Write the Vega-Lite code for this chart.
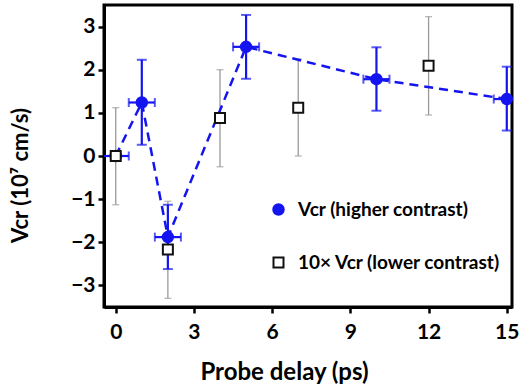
{
  "$schema": "https://vega.github.io/schema/vega-lite/v6.json",
  "width": 408,
  "height": 302,
  "autosize": "none",
  "padding": {"left": 104, "top": 5, "right": 8, "bottom": 81},
  "background": "white",
  "config": {
    "font": "Lato",
    "view": {"stroke": "black", "strokeWidth": 3},
    "axis": {
      "grid": false,
      "domainColor": "black",
      "domainWidth": 3,
      "tickColor": "black",
      "tickWidth": 2.5,
      "tickSize": 6,
      "labelFontSize": 21,
      "labelFontWeight": "bold",
      "labelColor": "black",
      "titleFontSize": 22,
      "titleFontWeight": "bold",
      "titleColor": "black"
    }
  },
  "datasets": {
    "pts": [
      {"s": "high", "x": 0, "y": 0, "ylo": 0, "yhi": 0, "xlo": -0.5, "xhi": 0.5},
      {"s": "high", "x": 1, "y": 1.24, "ylo": 0.26, "yhi": 2.23, "xlo": 0.5, "xhi": 1.5},
      {"s": "high", "x": 2, "y": -1.88, "ylo": -2.62, "yhi": -1.13, "xlo": 1.5, "xhi": 2.5},
      {"s": "high", "x": 5, "y": 2.53, "ylo": 1.79, "yhi": 3.27, "xlo": 4.5, "xhi": 5.5},
      {"s": "high", "x": 10, "y": 1.78, "ylo": 1.05, "yhi": 2.52, "xlo": 9.5, "xhi": 10.5},
      {"s": "high", "x": 15, "y": 1.32, "ylo": 0.59, "yhi": 2.07, "xlo": 14.5, "xhi": 15.5},
      {"s": "low", "x": 0, "y": 0, "ylo": -1.13, "yhi": 1.12},
      {"s": "low", "x": 2, "y": -2.17, "ylo": -3.3, "yhi": -1.05},
      {"s": "low", "x": 4, "y": 0.88, "ylo": -0.25, "yhi": 2.0},
      {"s": "low", "x": 7, "y": 1.12, "ylo": 0, "yhi": 2.25},
      {"s": "low", "x": 12, "y": 2.09, "ylo": 0.95, "yhi": 3.23}
    ]
  },
  "data": {"name": "pts"},
  "layer": [
    {
      "mark": {"type": "rule", "color": "#2e8b2e", "strokeDash": [7, 5], "strokeWidth": 1.8},
      "encoding": {
        "x": {"field": "x", "type": "quantitative", "scale": {"domain": [-0.45, 15.2], "nice": false, "zero": false},
              "axis": {"values": [0, 3, 6, 9, 12, 15], "title": "Probe delay (ps)", "titleFontSize": 24, "titleX": 180, "titleY": 65, "titleBaseline": "middle", "labelPadding": 8}},
        "y": {"datum": 0, "type": "quantitative", "scale": {"domain": [-3.5, 3.5], "nice": false},
              "axis": {"values": [-3, -2, -1, 0, 1, 2, 3], "title": "Vcr (10⁷ cm/s)", "titleFontSize": 22, "titleX": -84, "titleY": 170, "titleBaseline": "middle", "labelPadding": 3}}
      }
    },
    {
      "transform": [{"filter": "datum.s == 'low'"}],
      "mark": {"type": "rule", "color": "#9a9a9a", "strokeWidth": 1.3},
      "encoding": {
        "x": {"field": "x", "type": "quantitative"},
        "y": {"field": "ylo", "type": "quantitative"},
        "y2": {"field": "yhi"}
      }
    },
    {
      "transform": [{"filter": "datum.s == 'low'"}],
      "mark": {"type": "tick", "orient": "horizontal", "color": "#9a9a9a", "size": 7, "thickness": 1.3},
      "encoding": {
        "x": {"field": "x", "type": "quantitative"},
        "y": {"field": "ylo", "type": "quantitative"}
      }
    },
    {
      "transform": [{"filter": "datum.s == 'low'"}],
      "mark": {"type": "tick", "orient": "horizontal", "color": "#9a9a9a", "size": 7, "thickness": 1.3},
      "encoding": {
        "x": {"field": "x", "type": "quantitative"},
        "y": {"field": "yhi", "type": "quantitative"}
      }
    },
    {
      "transform": [{"filter": "datum.s == 'high'"}],
      "mark": {"type": "line", "color": "#1414f0", "strokeDash": [9, 6], "strokeWidth": 2.5},
      "encoding": {
        "x": {"field": "x", "type": "quantitative"},
        "y": {"field": "y", "type": "quantitative"},
        "order": {"field": "x"}
      }
    },
    {
      "transform": [{"filter": "datum.s == 'high'"}],
      "mark": {"type": "rule", "color": "#1414f0", "strokeWidth": 2.2},
      "encoding": {
        "x": {"field": "x", "type": "quantitative"},
        "y": {"field": "ylo", "type": "quantitative"},
        "y2": {"field": "yhi"}
      }
    },
    {
      "transform": [{"filter": "datum.s == 'high'"}],
      "mark": {"type": "tick", "orient": "horizontal", "color": "#1414f0", "size": 10, "thickness": 2},
      "encoding": {
        "x": {"field": "x", "type": "quantitative"},
        "y": {"field": "ylo", "type": "quantitative"}
      }
    },
    {
      "transform": [{"filter": "datum.s == 'high'"}],
      "mark": {"type": "tick", "orient": "horizontal", "color": "#1414f0", "size": 10, "thickness": 2},
      "encoding": {
        "x": {"field": "x", "type": "quantitative"},
        "y": {"field": "yhi", "type": "quantitative"}
      }
    },
    {
      "transform": [{"filter": "datum.s == 'high'"}],
      "mark": {"type": "rule", "color": "#1414f0", "strokeWidth": 2.2, "clip": true},
      "encoding": {
        "x": {"field": "xlo", "type": "quantitative"},
        "x2": {"field": "xhi"},
        "y": {"field": "y", "type": "quantitative"}
      }
    },
    {
      "transform": [{"filter": "datum.s == 'high'"}],
      "mark": {"type": "tick", "orient": "vertical", "color": "#1414f0", "size": 9, "thickness": 2, "clip": true},
      "encoding": {
        "x": {"field": "xlo", "type": "quantitative"},
        "y": {"field": "y", "type": "quantitative"}
      }
    },
    {
      "transform": [{"filter": "datum.s == 'high'"}],
      "mark": {"type": "tick", "orient": "vertical", "color": "#1414f0", "size": 9, "thickness": 2, "clip": true},
      "encoding": {
        "x": {"field": "xhi", "type": "quantitative"},
        "y": {"field": "y", "type": "quantitative"}
      }
    },
    {
      "mark": {"type": "point", "filled": false, "strokeWidth": 2, "opacity": 1},
      "encoding": {
        "x": {"field": "x", "type": "quantitative"},
        "y": {"field": "y", "type": "quantitative"},
        "shape": {"field": "s", "type": "nominal", "scale": {"domain": ["high", "low"], "range": ["circle", "square"]},
          "legend": {
            "orient": "none", "legendX": 165, "legendY": 195, "title": null,
            "labelFontSize": 19, "labelFontWeight": "bold", "labelFont": "Lato", "labelLimit": 0,
            "rowPadding": 33, "labelOffset": 10, "symbolStrokeWidth": 2,
            "labelExpr": "datum.value == 'high' ? 'Vcr (higher contrast)' : '10× Vcr (lower contrast)'",
            "encode": {"labels": {"update": {"fill": [{"test": "datum.value == 'high'", "value": "#1414f0"}, {"value": "#111111"}]}}}
          }},
        "fill": {"field": "s", "type": "nominal", "scale": {"domain": ["high", "low"], "range": ["#1414f0", "white"]}},
        "stroke": {"field": "s", "type": "nominal", "scale": {"domain": ["high", "low"], "range": ["#1414f0", "#111111"]}},
        "size": {"field": "s", "type": "nominal", "scale": {"domain": ["high", "low"], "range": [110, 100]}}
      }
    }
  ]
}
